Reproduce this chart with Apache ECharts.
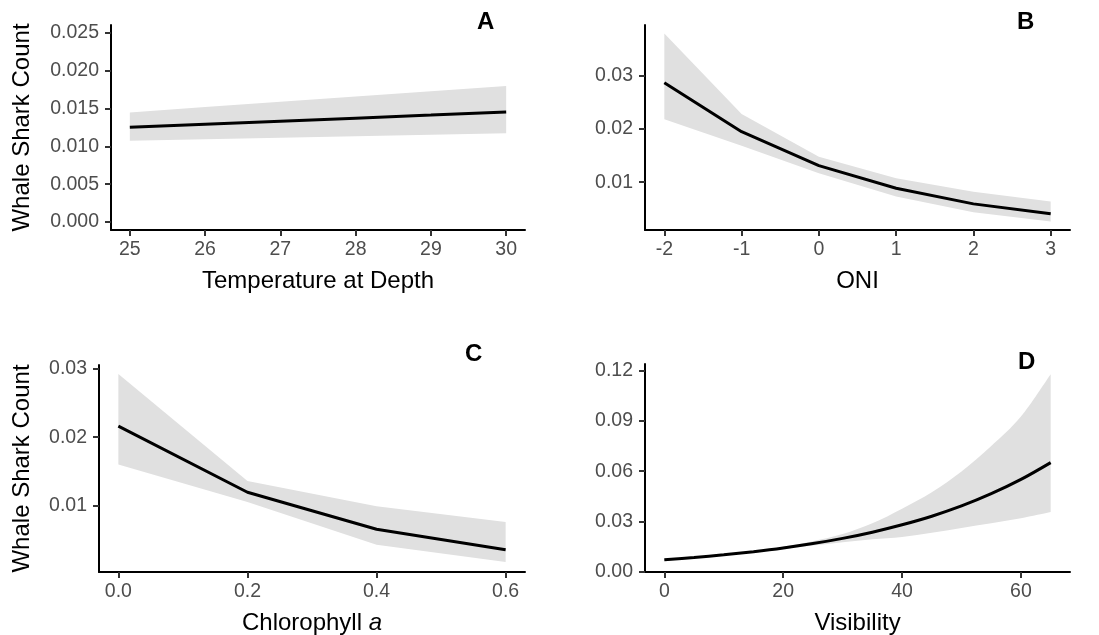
<!DOCTYPE html>
<html>
<head>
<meta charset="utf-8">
<script src="https://cdn.jsdelivr.net/npm/echarts@6/dist/echarts.min.js"></script>
<style>
  html, body { margin: 0; padding: 0; background: #fff; }
  #chart { width: 1099px; height: 635px; }
</style>
</head>
<body>
<div id="chart"></div>
<script>
/* -------------------------------------------------------------------------- */
/*                                   Data                                     */
/* -------------------------------------------------------------------------- */
const tempX = [25, 26, 27, 28, 29, 30];
const tempFit = [0.01253, 0.01293, 0.01333, 0.01374, 0.01414, 0.01455];
const tempUpper = [0.0145, 0.0152, 0.0159, 0.0166, 0.0173, 0.0180];
const tempLower = [0.01075, 0.01095, 0.01115, 0.01135, 0.01155, 0.01173];

const oniX = [-2, -1, 0, 1, 2, 3];
const oniFit = [0.02872, 0.01951, 0.01312, 0.00887, 0.00592, 0.00404];
const oniUpper = [0.0380, 0.02284, 0.01481, 0.01075, 0.00818, 0.00635];
const oniLower = [0.02184, 0.01688, 0.01169, 0.0073, 0.00436, 0.0026];

const chlX = [0, 0.2, 0.4, 0.6];
const chlFit = [0.02162, 0.01191, 0.00647, 0.00348];
const chlUpper = [0.02926, 0.01357, 0.00985, 0.00755];
const chlLower = [0.01598, 0.01049, 0.00422, 0.00167];

const visX = [0, 5, 10, 15, 20, 25, 30, 35, 40, 45, 50, 55, 60, 65];
const visFit = [0.0073, 0.0086, 0.0102, 0.0121, 0.0143, 0.0169, 0.0200, 0.0237, 0.0281, 0.0332, 0.0393, 0.0466, 0.0551, 0.0651];
const visUpper = [0.0078, 0.0090, 0.0106, 0.0125, 0.0150, 0.0183, 0.0226, 0.0290, 0.0377, 0.0475, 0.0598, 0.0750, 0.0925, 0.1177];
const visLower = [0.0068, 0.0082, 0.0098, 0.0116, 0.0137, 0.0157, 0.0177, 0.0195, 0.0208, 0.0233, 0.0262, 0.0290, 0.0320, 0.0357];

// tick labels
const tempTicks = [25, 26, 27, 28, 29, 30];
const oniTicks = [-2, -1, 0, 1, 2, 3];
const chlTicks = [0, 0.2, 0.4, 0.6];
const visTicks = [0, 20, 40, 60];
const yTicksA = [0, 0.005, 0.01, 0.015, 0.02, 0.025];
const yTicksB = [0.01, 0.02, 0.03];
const yTicksC = [0.01, 0.02, 0.03];
const yTicksD = [0, 0.03, 0.06, 0.09, 0.12];

const FONT = '"Liberation Sans", Arial, Helvetica, sans-serif';
const RIBBON = '#e0e0e0';

const chart = echarts.init(document.getElementById('chart'));

const grids = [];
const xAxes = [];
const yAxes = [];
const series = [];

// path through pixel points, straight or catmull-rom smoothed
const tracePath = (pts, smooth, start) => {
  let d = start ? `M${pts[0][0]},${pts[0][1]}` : `L${pts[0][0]},${pts[0][1]}`;
  for (let k = 1; k < pts.length; k++) {
    const p1 = pts[k - 1];
    const p2 = pts[k];
    if (!smooth) {
      d += `L${p2[0]},${p2[1]}`;
      continue;
    }
    const p0 = pts[k - 2] || p1;
    const p3 = pts[k + 1] || p2;
    const c1 = [p1[0] + (p2[0] - p0[0]) / 6, p1[1] + (p2[1] - p0[1]) / 6];
    const c2 = [p2[0] - (p3[0] - p1[0]) / 6, p2[1] - (p3[1] - p1[1]) / 6];
    d += `C${c1[0]},${c1[1]} ${c2[0]},${c2[1]} ${p2[0]},${p2[1]}`;
  }
  return d;
};

const addPanel = p => {
  const i = grids.length;
  grids.push({ left: p.left, top: p.top, width: p.width, height: p.height, outerBoundsMode: 'none', containLabel: false });

  xAxes.push({
    type: 'value',
    gridIndex: i,
    z: 10,
    min: p.xMin,
    max: p.xMax,
    name: p.xName,
    nameLocation: 'middle',
    nameGap: 39,
    nameTextStyle: { fontFamily: FONT, fontSize: 24, color: '#000', rich: p.xRich },
    axisLine: { onZero: false, lineStyle: { color: '#000', width: 2 } },
    axisTick: { customValues: p.xTicks, length: 6, lineStyle: { color: '#333', width: 2 } },
    axisLabel: {
      customValues: p.xTicks, margin: 10, fontFamily: FONT, fontSize: 19.5, color: '#4d4d4d',
      formatter: v => v.toFixed(p.xDigits),
    },
    splitLine: { show: false },
  });

  yAxes.push({
    type: 'value',
    gridIndex: i,
    z: 10,
    min: p.yMin,
    max: p.yMax,
    name: p.yName || '',
    nameLocation: 'middle',
    nameGap: p.yNameGap || 60,
    nameTextStyle: { fontFamily: FONT, fontSize: 24, color: '#000' },
    axisLine: { onZero: false, lineStyle: { color: '#000', width: 2 } },
    axisTick: { customValues: p.yTicks, length: 6, lineStyle: { color: '#333', width: 2 } },
    axisLabel: {
      customValues: p.yTicks, margin: 12, fontFamily: FONT, fontSize: 19.5, color: '#4d4d4d',
      formatter: v => v.toFixed(p.yDigits),
    },
    splitLine: { show: false },
  });

  // confidence ribbon: upper bound left->right, lower bound right->left
  series.push({
    type: 'custom', xAxisIndex: i, yAxisIndex: i, silent: true,
    data: [[p.x[0], p.upper[0]]],
    renderItem: (params, api) => {
      const up = p.x.map((x, k) => api.coord([x, p.upper[k]]));
      const low = p.x.map((x, k) => api.coord([x, p.lower[k]])).reverse();
      const d = tracePath(up, p.smooth, true) + tracePath(low, p.smooth, false) + 'Z';
      return { type: 'path', shape: { pathData: d }, style: { fill: RIBBON, stroke: null } };
    },
  });

  series.push({
    type: 'line', xAxisIndex: i, yAxisIndex: i,
    data: p.x.map((x, k) => [x, p.fit[k]]),
    symbol: 'none', smooth: p.smooth ? 0.33 : false,
    lineStyle: { color: '#000', width: 3 },
  });
};

addPanel({
  left: 111, top: 25, width: 414, height: 205,
  x: tempX, fit: tempFit, upper: tempUpper, lower: tempLower,
  xMin: 24.75, xMax: 30.25, xTicks: tempTicks, xDigits: 0, xName: 'Temperature at Depth',
  yMin: -0.00106, yMax: 0.02606, yTicks: yTicksA, yDigits: 3,
  yName: 'Whale Shark Count', yNameGap: 77, smooth: false,
});

addPanel({
  left: 645, top: 25, width: 425, height: 205,
  x: oniX, fit: oniFit, upper: oniUpper, lower: oniLower,
  xMin: -2.25, xMax: 3.25, xTicks: oniTicks, xDigits: 0, xName: 'ONI',
  yMin: 0.001, yMax: 0.0396, yTicks: yTicksB, yDigits: 2, smooth: false,
});

addPanel({
  left: 99, top: 365, width: 426, height: 207,
  x: chlX, fit: chlFit, upper: chlUpper, lower: chlLower,
  xMin: -0.03, xMax: 0.63, xTicks: chlTicks, xDigits: 1,
  xName: '{n|Chlorophyll }{i|a}',
  xRich: {
    n: { fontFamily: FONT, fontSize: 24, color: '#000' },
    i: { fontFamily: FONT, fontSize: 24, color: '#000', fontStyle: 'italic' },
  },
  yMin: 0.0002, yMax: 0.0306, yTicks: yTicksC, yDigits: 2,
  yName: 'Whale Shark Count', yNameGap: 65, smooth: false,
});

addPanel({
  left: 645, top: 364, width: 425, height: 208,
  x: visX, fit: visFit, upper: visUpper, lower: visLower,
  xMin: -3.25, xMax: 68.25, xTicks: visTicks, xDigits: 0, xName: 'Visibility',
  yMin: 0, yMax: 0.1238, yTicks: yTicksD, yDigits: 2, smooth: true,
});

// panel tags
const tag = (text, x, y) => ({
  type: 'text', left: x, top: y, z: 100,
  style: { text, font: 'bold 24px ' + FONT, fill: '#000' },
});

chart.setOption({
  animation: false,
  backgroundColor: '#fff',
  grid: grids,
  xAxis: xAxes,
  yAxis: yAxes,
  series,
  graphic: [
    tag('A', 477, 10),
    tag('B', 1017, 10),
    tag('C', 465, 342),
    tag('D', 1018, 350),
  ],
});
</script>
</body>
</html>
